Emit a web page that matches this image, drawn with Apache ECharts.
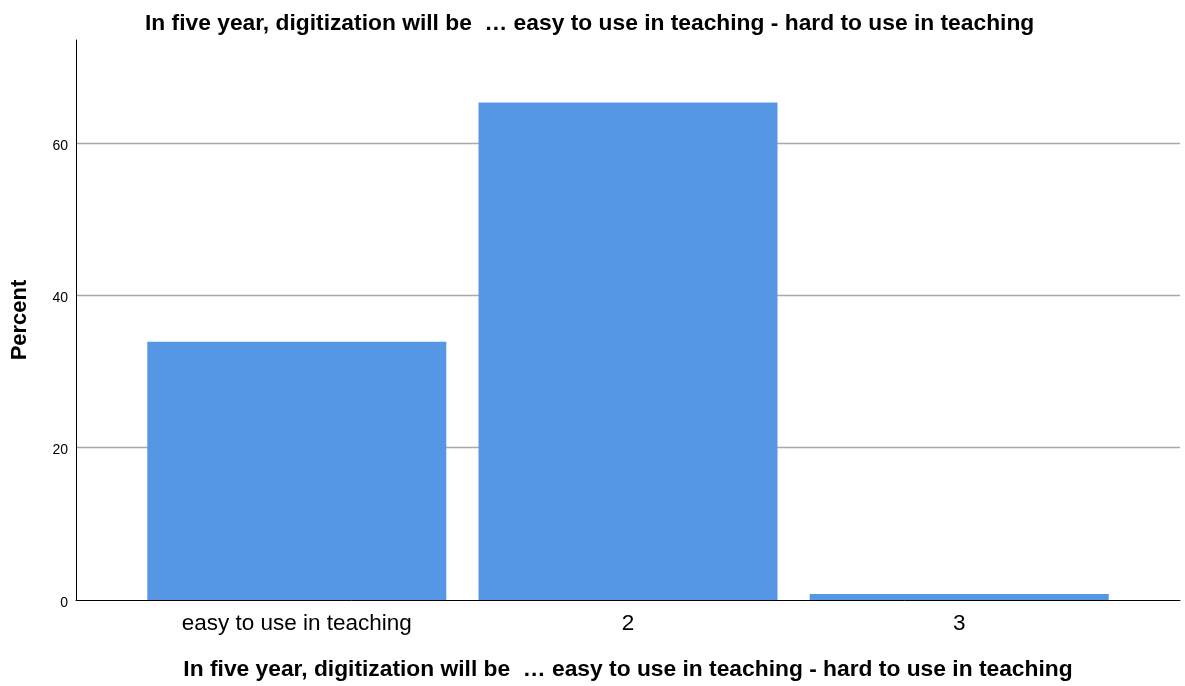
<!DOCTYPE html>
<html>
<head>
<meta charset="utf-8">
<title>Digitization in teaching</title>
<script src="https://cdn.jsdelivr.net/npm/echarts@6/dist/echarts.min.js"></script>
<style>
  html, body { margin: 0; padding: 0; background: #fff; }
  #chart { width: 1185px; height: 686px; }
</style>
</head>
<body>
<div id="chart"></div>
<script>
// Response categories and their share of respondents (%)
const categories = ['easy to use in teaching', '2', '3'];
const percentValues = [33.9, 65.3, 0.8];
const yTicks = [0, 20, 40, 60];
const questionText = 'In five year, digitization will be  \u2026 easy to use in teaching - hard to use in teaching';

const FONT = 'Arial, "Liberation Sans", sans-serif';

// Bars sit at positions 1..n on a value axis so the frame can extend past them
const positions = categories.map((_, i) => i + 1);
const barData = positions.map((p, i) => [p, percentValues[i]]);

const chart = echarts.init(document.getElementById('chart'), null, { renderer: 'canvas' });
chart.setOption({
  backgroundColor: '#ffffff',
  animation: false,
  title: {
    text: questionText,
    left: 140,
    top: 7,
    textStyle: { fontFamily: FONT, fontSize: 22.8, fontWeight: 'bold', color: '#000' }
  },
  grid: { left: 76, right: 5, top: 40, bottom: 86, containLabel: false, outerBoundsMode: 'none' },
  xAxis: {
    type: 'value',
    min: 1 / 3,
    max: positions.length + 2 / 3,
    name: questionText,
    nameLocation: 'middle',
    nameGap: 58,
    nameTextStyle: { fontFamily: FONT, fontSize: 22.8, fontWeight: 'bold', color: '#000' },
    axisLine: { show: true, lineStyle: { color: '#000', width: 1 } },
    axisTick: { show: false },
    splitLine: { show: false },
    axisLabel: {
      customValues: positions,
      formatter: v => categories[Math.round(v) - 1] || '',
      fontFamily: FONT,
      fontSize: 22.5,
      color: '#000',
      margin: 12
    }
  },
  yAxis: {
    type: 'value',
    min: 0,
    max: 73.5,
    interval: 20,
    name: 'Percent',
    nameLocation: 'middle',
    nameGap: 45,
    nameRotate: 90,
    nameTextStyle: { fontFamily: FONT, fontSize: 22, fontWeight: 'bold', color: '#000' },
    axisLine: { show: true, lineStyle: { color: '#000', width: 1 } },
    axisTick: { show: false },
    axisLabel: {
      customValues: yTicks,
      formatter: v => '{v|' + v + '}',
      margin: 8,
      rich: {
        v: { fontFamily: FONT, fontSize: 14, color: '#000', padding: [6, 0, 0, 0] }
      }
    },
    splitLine: {
      show: true,
      showMinLine: false,
      showMaxLine: false,
      lineStyle: { color: '#a8a8a8', width: 1.3 }
    }
  },
  series: [{
    type: 'bar',
    data: barData,
    barWidth: 299,
    itemStyle: { color: '#5596e5' }
  }]
});
</script>
</body>
</html>
